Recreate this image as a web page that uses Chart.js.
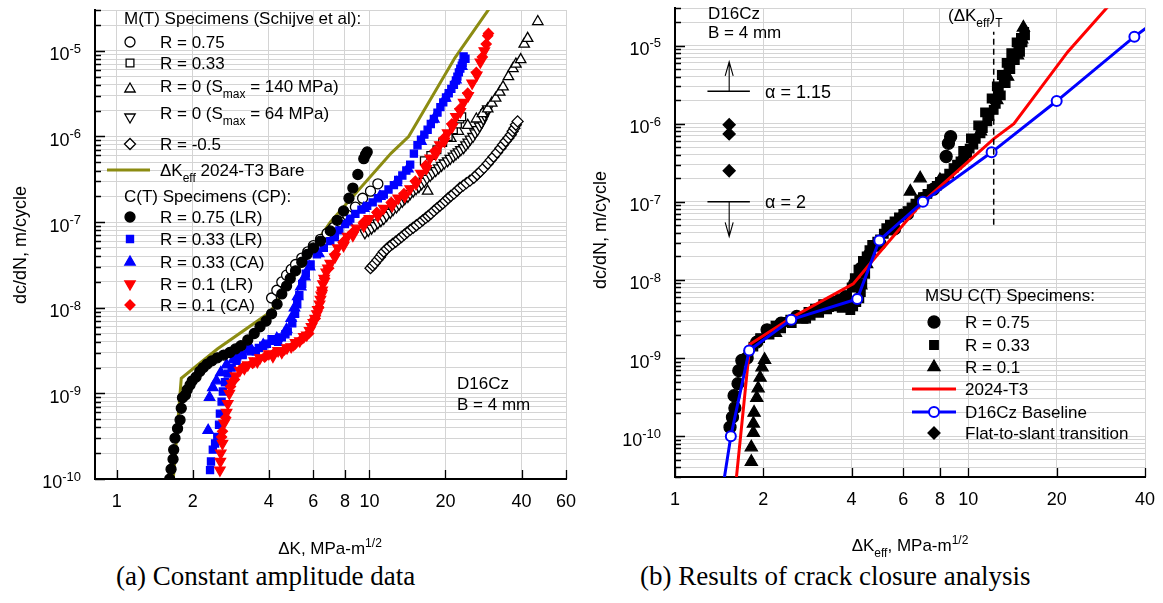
<!DOCTYPE html>
<html>
<head>
<meta charset="utf-8">
<script src="https://cdn.jsdelivr.net/npm/chart.js@4.4.1/dist/chart.umd.min.js"></script>
<style>
  body { margin: 0; background: #fff; }
  #wrap { position: relative; width: 1163px; height: 603px; overflow: hidden; background: #fff; }
  .pane { position: absolute; top: 0; }
  .cap { position: absolute; top: 561px; font-family: "Liberation Serif", "Times New Roman", serif; font-size: 27px; color: #000; white-space: nowrap; }
</style>
</head>
<body>
<div id="wrap">
  <div class="pane" style="left:0;width:580px;height:560px"><canvas id="chartA" width="580" height="560"></canvas></div>
  <div class="pane" style="left:580px;width:583px;height:560px"><canvas id="chartB" width="583" height="560"></canvas></div>
  <div class="cap" style="left:116px">(a) Constant amplitude data</div>
  <div class="cap" style="left:640px">(b) Results of crack closure analysis</div>
</div>
<script>
const SANS = '"Liberation Sans", Arial, Helvetica, sans-serif';

// axis ticks
const kTicksA = [1, 2, 4, 6, 8, 10, 20, 40, 60];
const kTicksB = [1, 2, 4, 6, 8, 10, 20, 40];
const rateDecades = [1e-11, 1e-10, 1e-9, 1e-8, 1e-7, 1e-6, 1e-5];

// dK_eff curve for bare 2024-T3 (olive in (a), red in (b))
const dKeff2024 = [1.62, 1.80, 2.50, 4.05, 4.90, 7.00, 12.2, 14.3, 21.8, 30.0];
const rate2024 = [3e-11, 1.5e-9, 3.3e-9, 8.9e-9, 2.1e-8, 1.0e-7, 6.4e-7, 1.0e-6, 8.3e-6, 3.2e-5];

// ---- (a) M(T) specimens, Schijve et al  [dK, dc/dN]
const mtR075 = [[4.1,1.3e-8],[4.3,1.6e-8],[4.5,2.0e-8],[4.7,2.4e-8],[4.9,2.8e-8],[5.1,3.2e-8],[5.4,3.8e-8],[5.7,4.5e-8],[6.0,5.3e-8],[6.4,6.3e-8],[6.8,7.4e-8],[7.2,8.6e-8],[7.7,1.0e-7],[8.2,1.2e-7],[8.8,1.5e-7],[9.4,1.9e-7],[10.1,2.3e-7],[10.8,2.8e-7]];
const mtR033 = [[16.5,5.2e-7],[17.5,6.0e-7],[18.5,7.0e-7],[19.5,8.5e-7],[20.5,1.0e-6],[21.5,1.2e-6],[22.3,1.4e-6],[22.8,1.6e-6],[23.2,1.7e-6]];
const mtR0s140 = [[17.0,2.3e-7],[21.0,9.5e-7],[22.5,1.15e-6],[24.5,1.35e-6],[26.5,1.6e-6],[28.0,1.85e-6],[29.4,2.1e-6],[30.5,2.45e-6],[31.6,2.8e-6],[32.8,3.3e-6],[33.8,3.8e-6],[35.5,5.0e-6],[37.0,6.2e-6],[38.0,7.0e-6],[39.7,7.9e-6],[41.0,1.2e-5],[42.3,1.4e-5],[46.4,2.2e-5]];
const mtR0s64 = [[9.6,7.5e-8],[9.9,8.0e-8],[10.2,8.5e-8],[10.5,9.1e-8],[10.8,9.8e-8],[11.1,1.04e-7],[11.4,1.1e-7],[11.7,1.2e-7],[12.1,1.3e-7],[12.4,1.4e-7],[12.8,1.5e-7],[13.1,1.62e-7],[13.5,1.75e-7],[13.8,1.88e-7],[14.2,2.0e-7],[14.5,2.15e-7],[14.9,2.3e-7],[15.3,2.45e-7],[15.7,2.6e-7],[16.1,2.8e-7],[16.5,3.0e-7],[16.9,3.25e-7],[17.4,3.5e-7],[17.8,3.75e-7],[18.3,4.0e-7],[18.8,4.3e-7],[19.3,4.6e-7],[19.8,4.9e-7],[20.4,5.2e-7],[20.9,5.55e-7],[21.5,5.9e-7],[22.0,6.25e-7],[22.5,6.6e-7],[23.0,7.0e-7],[23.6,7.4e-7],[24.1,8.0e-7],[24.6,8.6e-7],[25.1,9.3e-7],[25.7,1.0e-6],[26.2,1.1e-6],[26.8,1.2e-6],[27.3,1.32e-6],[27.8,1.45e-6],[28.2,1.6e-6],[28.6,1.75e-6],[29.0,1.9e-6],[29.4,2.1e-6]];
const mtRm05 = [[10.1,2.9e-8],[10.3,3.1e-8],[10.5,3.3e-8],[10.75,3.6e-8],[11.0,3.9e-8],[11.2,4.2e-8],[11.4,4.5e-8],[11.7,4.85e-8],[12.0,5.2e-8],[12.35,5.55e-8],[12.7,5.9e-8],[13.05,6.3e-8],[13.4,6.7e-8],[13.75,7.15e-8],[14.1,7.6e-8],[14.5,8.1e-8],[14.9,8.6e-8],[15.35,9.2e-8],[15.8,9.8e-8],[16.25,1.05e-7],[16.7,1.12e-7],[17.1,1.18e-7],[17.5,1.25e-7],[18.0,1.35e-7],[18.5,1.45e-7],[19.0,1.55e-7],[19.5,1.65e-7],[20.0,1.77e-7],[20.5,1.9e-7],[21.0,2.02e-7],[21.6,2.15e-7],[22.2,2.32e-7],[22.8,2.5e-7],[23.5,2.67e-7],[24.2,2.85e-7],[25.0,3.05e-7],[25.9,3.3e-7],[26.7,3.6e-7],[27.5,3.9e-7],[28.4,4.3e-7],[29.4,4.8e-7],[30.2,5.3e-7],[31.0,5.8e-7],[32.0,6.5e-7],[33.0,7.3e-7],[33.8,8.0e-7],[34.6,8.8e-7],[35.5,9.6e-7],[36.3,1.05e-6],[36.9,1.15e-6],[37.5,1.25e-6],[38.0,1.37e-6],[38.6,1.5e-6]];

// ---- (a) C(T) specimens, CP
const ctR075LR = [[1.62,1.0e-10],[1.64,1.3e-10],[1.67,1.7e-10],[1.68,2.2e-10],[1.70,3.0e-10],[1.74,3.9e-10],[1.78,4.9e-10],[1.80,6.7e-10],[1.82,8.9e-10],[1.87,9.6e-10],[1.90,1.1e-9],[1.95,1.25e-9],[1.99,1.4e-9],[2.06,1.55e-9],[2.13,1.8e-9],[2.20,2.0e-9],[2.28,2.2e-9],[2.38,2.4e-9],[2.50,2.6e-9],[2.65,2.8e-9],[2.80,3.0e-9],[2.95,3.3e-9],[3.10,3.6e-9],[3.30,4.2e-9],[3.50,5.0e-9],[3.69,6.0e-9],[3.90,7.0e-9],[4.10,8.5e-9],[4.31,1.1e-8],[4.50,1.45e-8],[4.70,1.8e-8],[4.86,2.2e-8],[5.10,2.7e-8],[5.40,3.4e-8],[5.67,4.2e-8],[6.00,5.0e-8],[6.40,6.0e-8],[7.00,7.9e-8],[7.45,1.05e-7],[7.90,1.35e-7],[8.30,1.9e-7],[8.60,2.5e-7],[9.00,3.6e-7],[9.50,5.5e-7],[9.65,6.1e-7],[9.80,6.6e-7]];
const ctR033LR = [[2.34,1.27e-10],[2.36,1.6e-10],[2.40,2.2e-10],[2.45,2.6e-10],[2.50,3.1e-10],[2.54,4.3e-10],[2.56,5.8e-10],[2.60,8.0e-10],[2.63,1.05e-9],[2.68,1.35e-9],[2.75,1.7e-9],[2.85,2.0e-9],[2.98,2.4e-9],[3.00,2.7e-9],[3.15,2.8e-9],[3.30,3.3e-9],[3.40,3.1e-9],[3.55,3.1e-9],[3.65,3.4e-9],[3.80,3.6e-9],[3.93,3.8e-9],[4.10,4.3e-9],[4.20,4.1e-9],[4.35,4.0e-9],[4.50,4.5e-9],[4.65,4.9e-9],[4.75,5.3e-9],[4.95,6.6e-9],[5.08,8.5e-9],[5.18,1.1e-8],[5.28,1.4e-8],[5.42,1.9e-8],[5.60,2.5e-8],[5.85,3.2e-8],[6.20,4.2e-8],[6.60,5.0e-8],[7.00,6.0e-8],[7.30,7.0e-8],[7.60,8.0e-8],[8.00,9.5e-8],[8.40,1.1e-7],[8.80,1.25e-7],[9.30,1.4e-7],[9.80,1.55e-7],[10.3,1.7e-7],[10.8,1.9e-7],[11.4,2.1e-7],[11.9,2.4e-7],[12.5,2.7e-7],[13.0,3.1e-7],[13.5,3.5e-7],[14.0,4.0e-7],[14.5,4.7e-7],[15.0,6.3e-7],[15.5,7.9e-7],[16.0,9.2e-7],[16.5,1.05e-6],[17.0,1.2e-6],[17.5,1.4e-6],[18.0,1.6e-6],[18.6,1.9e-6],[19.1,2.2e-6],[19.6,2.5e-6],[20.1,2.85e-6],[20.6,3.2e-6],[21.1,3.6e-6],[21.6,4.0e-6],[22.0,4.5e-6],[22.3,5.0e-6],[22.6,5.6e-6],[22.9,6.2e-6],[23.2,6.7e-6],[23.4,7.2e-6],[24.0,8.1e-6],[23.6,8.6e-6]];
const ctR033CA = [[2.30,3.7e-10],[2.33,9.0e-10],[2.40,1.17e-9],[2.48,1.4e-9],[2.58,1.75e-9],[2.72,2.15e-9],[2.90,2.5e-9],[3.10,2.9e-9],[3.40,3.3e-9],[3.80,3.7e-9],[4.30,4.4e-9],[4.70,5.6e-9],[4.90,7.5e-9],[5.05,1.0e-8],[5.20,1.35e-8],[5.35,1.75e-8],[5.55,2.3e-8],[5.80,3.0e-8],[6.30,4.3e-8],[7.20,6.6e-8],[8.20,1.0e-7],[9.50,1.45e-7],[11.0,2.0e-7],[12.8,2.9e-7],[14.2,4.2e-7],[16.0,8.8e-7],[18.0,1.6e-6],[20.0,2.8e-6],[22.0,4.6e-6],[23.2,6.6e-6]];
const ctR01LR = [[2.56,1.27e-10],[2.57,1.6e-10],[2.58,2.0e-10],[2.62,2.6e-10],[2.66,4.5e-10],[2.72,6.0e-10],[2.75,7.6e-10],[2.79,1.0e-9],[2.86,1.3e-9],[2.95,1.6e-9],[3.07,1.85e-9],[3.20,1.95e-9],[3.30,2.15e-9],[3.50,2.4e-9],[3.60,2.35e-9],[3.69,2.6e-9],[4.00,2.9e-9],[4.15,2.7e-9],[4.35,3.15e-9],[4.50,3.0e-9],[4.72,3.4e-9],[4.90,3.5e-9],[5.10,3.9e-9],[5.30,4.1e-9],[5.50,4.6e-9],[5.65,4.8e-9],[5.80,5.4e-9],[5.90,6.0e-9],[6.00,6.7e-9],[6.10,7.5e-9],[6.20,8.5e-9],[6.25,9.5e-9],[6.35,1.1e-8],[6.40,1.25e-8],[6.45,1.4e-8],[6.50,1.6e-8],[6.55,1.9e-8],[6.62,2.2e-8],[6.75,2.6e-8],[6.85,2.9e-8],[7.00,3.3e-8],[7.30,3.9e-8],[7.50,5.0e-8],[7.90,5.3e-8],[8.20,6.8e-8],[8.60,7.0e-8],[8.90,8.5e-8],[9.50,9.0e-8],[10.0,1.1e-7],[10.8,1.18e-7],[11.4,1.45e-7],[12.3,1.55e-7],[13.0,1.9e-7],[13.8,2.0e-7],[14.5,2.45e-7],[15.3,2.8e-7],[16.0,3.7e-7],[16.8,4.2e-7],[17.4,5.6e-7],[18.3,6.2e-7],[19.0,8.0e-7],[19.8,8.8e-7],[20.4,1.1e-6],[21.3,1.3e-6],[22.0,1.7e-6],[22.9,1.95e-6],[23.6,2.5e-6],[24.6,3.0e-6],[25.5,4.2e-6],[26.6,5.2e-6],[27.5,7.4e-6],[28.5,1.0e-5]];
const ctR01CA = [[2.60,3.1e-10],[2.62,3.6e-10],[2.70,5.2e-10],[2.82,1.2e-9],[2.92,1.45e-9],[3.15,2.0e-9],[3.45,2.25e-9],[3.85,2.65e-9],[4.20,2.95e-9],[4.60,3.2e-9],[5.00,3.6e-9],[5.40,4.3e-9],[5.75,5.0e-9],[6.10,7.5e-9],[6.30,1.0e-8],[6.50,1.6e-8],[6.65,2.2e-8],[6.90,2.9e-8],[7.30,4.2e-8],[7.90,5.9e-8],[8.60,7.6e-8],[9.50,1.0e-7],[10.7,1.3e-7],[12.2,1.7e-7],[13.7,2.15e-7],[15.2,3.0e-7],[16.7,4.6e-7],[18.2,6.8e-7],[19.7,9.5e-7],[21.2,1.4e-6],[22.8,2.1e-6],[24.5,3.2e-6],[26.5,5.6e-6],[28.0,8.5e-6],[29.0,1.2e-5],[29.4,1.5e-5],[29.6,1.6e-5]];

// ---- (b) MSU C(T) specimens vs dK_eff
const msuR075 = [[1.54,1.3e-10],[1.57,1.75e-10],[1.60,2.3e-10],[1.59,3.3e-10],[1.64,4.7e-10],[1.65,6.9e-10],[1.69,9.3e-10],[1.76,1.0e-9],[1.90,1.6e-9],[2.06,2.3e-9],[2.30,2.8e-9],[2.60,3.4e-9],[3.00,4.1e-9],[3.40,5.0e-9],[3.80,6.0e-9],[4.10,9.0e-9],[4.30,1.4e-8],[4.60,2.1e-8],[5.00,2.9e-8],[5.60,4.5e-8],[6.20,7.0e-8],[7.00,1.1e-7],[7.60,1.45e-7],[8.40,3.8e-7],[8.55,5.6e-7],[8.70,6.8e-7]];
const msuR033 = [[1.78,1.1e-9],[1.85,1.4e-9],[1.95,1.8e-9],[2.06,2.2e-9],[2.10,2.0e-9],[2.20,2.6e-9],[2.30,2.4e-9],[2.35,2.9e-9],[2.47,3.1e-9],[2.50,2.8e-9],[2.65,3.4e-9],[2.80,3.2e-9],[2.85,3.9e-9],[2.90,3.5e-9],[3.00,4.3e-9],[3.10,3.8e-9],[3.20,4.9e-9],[3.30,4.2e-9],[3.45,5.4e-9],[3.55,4.6e-9],[3.65,5.8e-9],[3.70,4.4e-9],[3.80,5.0e-9],[3.86,6.4e-9],[3.96,4.1e-9],[4.00,8.0e-9],[4.05,4.6e-9],[4.10,1.05e-8],[4.15,5.2e-9],[4.22,1.35e-8],[4.25,5.8e-9],[4.30,7.0e-9],[4.35,9.0e-9],[4.37,1.75e-8],[4.45,1.2e-8],[4.50,2.0e-8],[4.60,2.4e-8],[4.70,2.8e-8],[4.89,3.1e-8],[5.00,3.3e-8],[5.15,3.9e-8],[5.25,4.6e-8],[5.40,5.1e-8],[5.60,5.6e-8],[5.80,6.3e-8],[6.00,7.0e-8],[6.20,7.6e-8],[6.40,8.5e-8],[6.60,9.5e-8],[6.80,1.05e-7],[7.00,1.15e-7],[7.25,1.26e-7],[7.50,1.45e-7],[7.80,1.6e-7],[8.00,1.8e-7],[8.30,2.0e-7],[8.60,2.3e-7],[8.90,2.7e-7],[9.15,3.0e-7],[9.40,3.3e-7],[9.60,4.5e-7],[9.70,3.8e-7],[9.90,4.2e-7],[10.1,4.8e-7],[10.2,6.5e-7],[10.4,5.4e-7],[10.6,6.4e-7],[10.8,9.5e-7],[11.0,7.5e-7],[11.2,8.8e-7],[11.4,1.4e-6],[11.6,1.07e-6],[11.8,1.25e-6],[12.0,2.1e-6],[12.2,1.5e-6],[12.4,1.8e-6],[12.5,3.0e-6],[12.7,2.6e-6],[12.9,2.3e-6],[13.0,4.2e-6],[13.2,3.8e-6],[13.4,3.3e-6],[13.5,6.0e-6],[13.7,5.4e-6],[13.9,5.0e-6],[14.0,8.0e-6],[14.2,7.2e-6],[14.4,6.5e-6],[14.6,1.1e-5],[14.8,9.5e-6],[15.0,8.3e-6],[15.1,1.25e-5],[15.3,1.1e-5],[15.5,1.5e-5],[15.6,1.35e-5]];
const msuR01 = [[1.82,4.7e-11],[1.82,7.2e-11],[1.85,1.1e-10],[1.85,1.45e-10],[1.86,2.0e-10],[1.90,3.1e-10],[1.92,4.1e-10],[1.95,5.6e-10],[1.98,7.6e-10],[2.02,9.5e-10],[2.20,2.1e-9],[2.70,3.1e-9],[3.30,4.4e-9],[3.90,5.6e-9],[4.30,8.5e-9],[4.50,1.6e-8],[4.80,2.6e-8],[5.30,4.2e-8],[5.90,6.5e-8],[6.34,1.35e-7],[6.85,2.0e-7],[8.00,1.9e-7],[9.50,3.6e-7],[11.0,8.0e-7],[12.5,2.0e-6],[13.6,4.0e-6],[14.7,7.5e-6],[15.2,1.2e-5],[15.4,1.7e-5]];

// D16Cz baseline (first and last points lie outside the frame)
const dKBase = [1.45, 1.55, 1.79, 2.49, 4.18, 4.97, 7.0, 12.0, 20.0, 36.8, 50];
const rateBase = [2e-11, 1e-10, 1.25e-9, 3.1e-9, 5.7e-9, 3.2e-8, 1.0e-7, 4.3e-7, 1.95e-6, 1.3e-5, 3.0e-5];

// flat-to-slant transition markers and the (dK_eff)_T line
const slantK = [1.53, 1.53, 1.53];
const slantRate = [9.7e-7, 7.4e-7, 2.5e-7];
const transK = [12.2, 12.2];
const transRate = [5.1e-8, 1.5e-5];

// alpha annotation
const alphaLabels = ['α = 1.15', 'α = 2'];
const alphaRate = [2.6e-6, 1.0e-7];
const alphaTip = [6.2e-6, 3.6e-8];
const alphaSpan = [1.29, 1.8];
const alphaArrowK = 1.53;

// ---------- helpers ----------
const isDecade = v => Math.abs(Math.log10(v) - Math.round(Math.log10(v))) < 1e-6;
const pts = arr => arr.map(([x, y]) => ({ x, y }));
const zip = (xs, ys) => xs.map((x, i) => ({ x, y: ys[i] }));

function logTicks(min, max) {
  const out = [];
  rateDecades.forEach(d => {
    for (let m = 1; m <= 9; m++) {
      const v = d * m;
      if (v >= min * 0.9999 && v <= max * 1.0001) out.push(v);
    }
  });
  return out;
}

function axes(kMin, kMax, kTicks, rMin, rMax, xH) {
  const noPad = s => { s.paddingTop = s.paddingBottom = s.paddingLeft = s.paddingRight = 0; };
  const grid = { color: '#d4d4d4', lineWidth: 1, drawTicks: false };
  const border = { color: '#000', width: 2 };
  return {
    x: {
      type: 'logarithmic', min: kMin, max: kMax,
      afterBuildTicks: s => { s.ticks = kTicks.map(v => ({ value: v })); },
      afterFit: s => { s.height = xH; noPad(s); },
      ticks: { autoSkip: false, maxRotation: 0, padding: 12, color: '#000', font: { family: SANS, size: 18 }, callback: v => String(v) },
      grid, border
    },
    y: {
      type: 'logarithmic', min: rMin, max: rMax,
      afterBuildTicks: s => { s.ticks = logTicks(rMin, rMax).map(v => ({ value: v, major: isDecade(v) })); },
      afterFit: s => { s.width = 95; noPad(s); },
      // decade labels need a real superscript, drawn in rateLabels below
      ticks: { autoSkip: false, padding: 13, color: '#000', font: { family: SANS, size: 18 }, callback: () => '' },
      grid, border
    }
  };
}

function scat(data, style, r, fill, stroke, extra) {
  return Object.assign({
    data, showLine: false, pointStyle: style, pointRadius: r, pointRotation: 0,
    pointBackgroundColor: fill, pointBorderColor: stroke, pointBorderWidth: 1.3,
    backgroundColor: fill, borderColor: stroke
  }, extra || {});
}

function drawMark(ctx, ds, x, y) {
  const style = ds.pointStyle, rot = ds.pointRotation || 0;
  const r = Array.isArray(ds.pointRadius) ? Math.max(...ds.pointRadius) : ds.pointRadius;
  ctx.beginPath();
  if (style === 'circle') ctx.arc(x, y, r, 0, Math.PI * 2);
  else if (style === 'rect') { const s = r * Math.SQRT1_2; ctx.rect(x - s, y - s, 2 * s, 2 * s); }
  else if (style === 'rectRot') { ctx.moveTo(x - r, y); ctx.lineTo(x, y - r); ctx.lineTo(x + r, y); ctx.lineTo(x, y + r); ctx.closePath(); }
  else if (style === 'triangle') {
    let a = rot * Math.PI / 180;
    ctx.moveTo(x + Math.sin(a) * r, y - Math.cos(a) * r);
    a += 2 * Math.PI / 3; ctx.lineTo(x + Math.sin(a) * r, y - Math.cos(a) * r);
    a += 2 * Math.PI / 3; ctx.lineTo(x + Math.sin(a) * r, y - Math.cos(a) * r);
    ctx.closePath();
  }
  ctx.fillStyle = ds.pointBackgroundColor; ctx.fill();
  if (ds.pointBorderWidth > 0) { ctx.strokeStyle = ds.pointBorderColor; ctx.lineWidth = ds.pointBorderWidth; ctx.stroke(); }
}

// text with sub/superscript parts: [[text, 'sub'|'sup'|undefined], ...]; y is the text's middle
function rich(ctx, parts, x, y, size, align) {
  const fontFor = p => (p[1] ? Math.round(size * 0.72) : size) + 'px ' + SANS;
  let w = 0;
  parts.forEach(p => { ctx.font = fontFor(p); w += ctx.measureText(p[0]).width; });
  let cx = align === 'center' ? x - w / 2 : align === 'right' ? x - w : x;
  ctx.textAlign = 'left';
  ctx.textBaseline = 'alphabetic';
  ctx.fillStyle = '#000';
  const base = y + size * 0.36;
  parts.forEach(p => {
    ctx.font = fontFor(p);
    const dy = p[1] === 'sub' ? size * 0.32 : p[1] === 'sup' ? -size * 0.42 : 0;
    ctx.fillText(p[0], cx, base + dy);
    cx += ctx.measureText(p[0]).width;
  });
}

function drawLegend(chart, rows, cfg) {
  const ctx = chart.ctx;
  rows.forEach(row => {
    if (row.head) { rich(ctx, [[row.head]], cfg.headX, row.y, cfg.size); return; }
    const ds = chart.data.datasets[row.ds];
    if (row.line) {
      ctx.save();
      ctx.strokeStyle = ds.borderColor; ctx.lineWidth = ds.borderWidth;
      ctx.beginPath(); ctx.moveTo(cfg.lineX[0], row.y); ctx.lineTo(cfg.lineX[1], row.y); ctx.stroke();
      ctx.restore();
      if (row.mark) drawMark(ctx, ds, cfg.markX, row.y);
    } else {
      drawMark(ctx, ds, cfg.markX, row.y + (row.markDy || 0));
    }
    rich(ctx, row.text, cfg.textX, row.y, cfg.size);
  });
}

const innerTicks = {
  id: 'innerTicks',
  beforeDatasetsDraw(chart) {
    const { ctx, chartArea: a } = chart;
    const { x, y } = chart.scales;
    ctx.save();
    ctx.strokeStyle = '#000'; ctx.lineWidth = 1.3;
    ctx.beginPath();
    y.ticks.forEach(t => {
      const py = Math.round(y.getPixelForValue(t.value)) + 0.5;
      ctx.moveTo(a.left, py); ctx.lineTo(a.left + (isDecade(t.value) ? 10 : 6), py);
    });
    x.ticks.forEach(t => {
      const px = Math.round(x.getPixelForValue(t.value)) + 0.5;
      ctx.moveTo(px, a.bottom); ctx.lineTo(px, a.bottom - 9);
    });
    ctx.stroke();
    ctx.restore();
  }
};

// "10" with raised exponent beside each decade tick of the rate axis
const rateLabels = {
  id: 'rateLabels',
  afterDraw(chart) {
    const { ctx, chartArea: a } = chart;
    const y = chart.scales.y;
    ctx.save();
    y.ticks.filter(t => isDecade(t.value)).forEach(t => {
      rich(ctx, [['10'], [String(Math.round(Math.log10(t.value))), 'sup']], a.left - 14, y.getPixelForValue(t.value) + 3, 18, 'right');
    });
    ctx.restore();
  }
};

function yTitle(ctx, x, y) {
  ctx.save();
  ctx.translate(x, y); ctx.rotate(-Math.PI / 2);
  rich(ctx, [['dc/dN, m/cycle']], 0, 0, 18, 'center');
  ctx.restore();
}

// ---------- chart (a) ----------
const legendA = [
  { head: 'M(T) Specimens (Schijve et al):', y: 18 },
  { ds: 5, y: 42, text: [['R = 0.75']] },
  { ds: 6, y: 63, text: [['R = 0.33']] },
  { ds: 7, y: 86, markDy: 3, text: [['R = 0 (S'], ['max', 'sub'], [' = 140 MPa)']] },
  { ds: 8, y: 113, markDy: 4, text: [['R = 0 (S'], ['max', 'sub'], [' = 64 MPa)']] },
  { ds: 9, y: 144, text: [['R = -0.5']] },
  { ds: 10, y: 170, line: true, text: [['ΔK'], ['eff', 'sub'], [' 2024-T3 Bare']] },
  { head: 'C(T) Specimens (CP):', y: 196 },
  { ds: 0, y: 217, text: [['R = 0.75 (LR)']] },
  { ds: 4, y: 239, text: [['R = 0.33 (LR)']] },
  { ds: 3, y: 262, text: [['R = 0.33 (CA)']] },
  { ds: 2, y: 284, text: [['R = 0.1 (LR)']] },
  { ds: 1, y: 305, text: [['R = 0.1 (CA)']] }
];

const notesA = {
  id: 'notesA',
  afterDraw(chart) {
    const ctx = chart.ctx;
    ctx.save();
    yTitle(ctx, 20, 245);
    rich(ctx, [['ΔK, MPa-m'], ['1/2', 'sup']], 330, 548, 17, 'center');
    rich(ctx, [['D16Cz']], 457, 383, 17);
    rich(ctx, [['B = 4 mm']], 457, 404, 17);
    drawLegend(chart, legendA, { headX: 124, markX: 130, textX: 160, lineX: [107, 150], size: 17 });
    ctx.restore();
  }
};

const OPEN = '#ffffff';
new Chart(document.getElementById('chartA'), {
  type: 'scatter',
  data: {
    datasets: [
      scat(pts(ctR075LR), 'circle', 5, '#000', '#000'),
      scat(pts(ctR01CA), 'rectRot', 5, '#ff0000', '#ff0000'),
      scat(pts(ctR01LR), 'triangle', 6, '#ff0000', '#ff0000', { pointRotation: 180 }),
      scat(pts(ctR033CA), 'triangle', 6, '#0000ff', '#0000ff'),
      scat(pts(ctR033LR), 'rect', 5, '#0000ff', '#0000ff'),
      scat(pts(mtR075), 'circle', 5, OPEN, '#000'),
      scat(pts(mtR033), 'rect', 5.5, OPEN, '#000'),
      scat(pts(mtR0s140), 'triangle', 6, OPEN, '#000'),
      scat(pts(mtR0s64), 'triangle', 6, OPEN, '#000', { pointRotation: 180 }),
      scat(pts(mtRm05), 'rectRot', 5.5, OPEN, '#000'),
      { data: zip(dKeff2024, rate2024), showLine: true, borderColor: '#8c8c12', borderWidth: 3, pointRadius: 0 }
    ]
  },
  options: {
    responsive: false, animation: false, events: [],
    layout: { padding: { left: 0, top: 10, right: 14, bottom: 0 } },
    plugins: { legend: { display: false }, tooltip: { enabled: false } },
    scales: axes(0.82, 60, kTicksA, 1e-10, 3e-5, 81)
  },
  plugins: [innerTicks, rateLabels, notesA]
});

// ---------- chart (b) ----------
const legendB = [
  { head: 'MSU C(T) Specimens:', y: 295 },
  { ds: 4, y: 322, text: [['R = 0.75']] },
  { ds: 5, y: 345, text: [['R = 0.33']] },
  { ds: 6, y: 367, text: [['R = 0.1']] },
  { ds: 2, y: 389, line: true, text: [['2024-T3']] },
  { ds: 1, y: 412, line: true, mark: true, text: [['D16Cz Baseline']] },
  { ds: 3, y: 433, text: [['Flat-to-slant transition']] }
];

const notesB = {
  id: 'notesB',
  afterDraw(chart) {
    const ctx = chart.ctx;
    const { x, y } = chart.scales;
    ctx.save();
    yTitle(ctx, 20, 230);
    rich(ctx, [['ΔK'], ['eff', 'sub'], [', MPa-m'], ['1/2', 'sup']], 330, 545, 17, 'center');
    rich(ctx, [['D16Cz']], 128, 13, 17);
    rich(ctx, [['B = 4 mm']], 128, 32, 17);
    rich(ctx, [['(ΔK'], ['eff', 'sub'], [')'], ['T', 'sub']], 368, 15, 17);
    // alpha bars with arrows
    ctx.strokeStyle = '#000';
    alphaRate.forEach((r, i) => {
      const py = y.getPixelForValue(r);
      const ty = y.getPixelForValue(alphaTip[i]);
      const ax = x.getPixelForValue(alphaArrowK);
      ctx.lineWidth = 1.5;
      ctx.beginPath();
      ctx.moveTo(x.getPixelForValue(alphaSpan[0]), py); ctx.lineTo(x.getPixelForValue(alphaSpan[1]), py);
      ctx.stroke();
      ctx.lineWidth = 1.1;
      const dir = ty < py ? 1 : -1;
      ctx.beginPath();
      ctx.moveTo(ax, py); ctx.lineTo(ax, ty);
      ctx.moveTo(ax - 4, ty + dir * 14); ctx.lineTo(ax, ty); ctx.lineTo(ax + 4, ty + dir * 14);
      ctx.stroke();
      rich(ctx, [[alphaLabels[i]]], 185, py, 18);
    });
    drawLegend(chart, legendB, { headX: 345, markX: 354, textX: 385, lineX: [332, 376], size: 17 });
    ctx.restore();
  }
};

new Chart(document.getElementById('chartB'), {
  type: 'scatter',
  data: {
    datasets: [
      { data: zip(transK, transRate), showLine: true, borderColor: '#000', borderWidth: 1.5, borderDash: [6, 4], pointRadius: 0 },
      {
        data: zip(dKBase, rateBase), showLine: true, borderColor: '#0000ff', borderWidth: 3,
        pointStyle: 'circle', pointRadius: dKBase.map((k, i) => (i === 0 || i === dKBase.length - 1) ? 0 : 5),
        pointBackgroundColor: '#fff', pointBorderColor: '#0000ff', pointBorderWidth: 2
      },
      { data: zip(dKeff2024, rate2024), showLine: true, borderColor: '#ff0000', borderWidth: 3, pointRadius: 0 },
      scat(zip(slantK, slantRate), 'rectRot', 6, '#000', '#000'),
      scat(pts(msuR075), 'circle', 6, '#000', '#000'),
      scat(pts(msuR033), 'rect', 6, '#000', '#000'),
      scat(pts(msuR01), 'triangle', 7, '#000', '#000')
    ]
  },
  options: {
    responsive: false, animation: false, events: [],
    layout: { padding: { left: 0, top: 7, right: 18, bottom: 0 } },
    plugins: { legend: { display: false }, tooltip: { enabled: false } },
    scales: axes(1, 40, kTicksB, 3e-11, 3e-5, 83)
  },
  plugins: [innerTicks, rateLabels, notesB]
});
</script>
</body>
</html>
